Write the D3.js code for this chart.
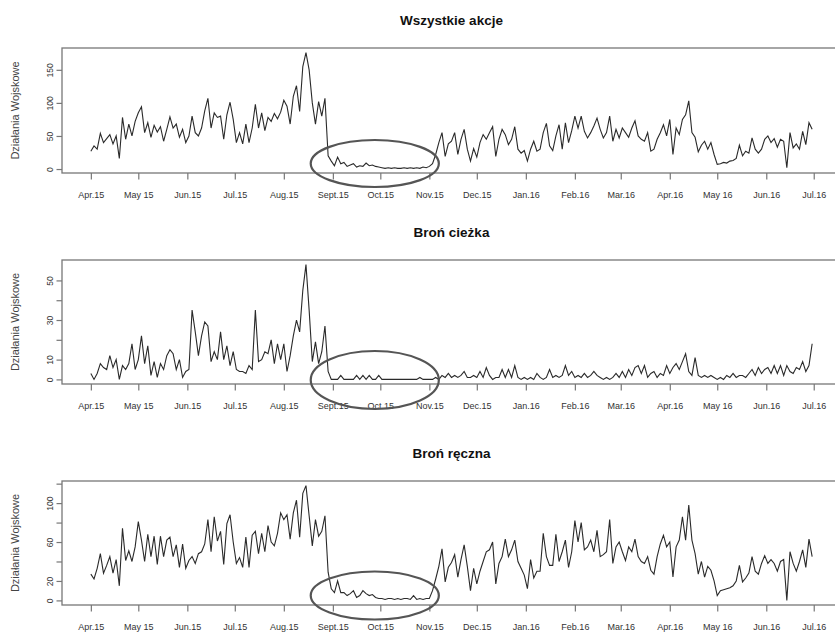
<!DOCTYPE html>
<html lang="pl">
<head>
	<meta charset="utf-8" />
	<title>Działania Wojskowe</title>
	<script src="https://d3js.org/d3.v7.min.js"></script>
	<style>
		body {
			margin: 0;
			background: #fff;
			font-family: "Liberation Sans", Arial, sans-serif;
		}
	</style>
</head>
<body>
<script>
// one value every 2nd day, starting 1 Apr 2015
const startDate = new Date(2015, 3, 1);
const stepDays = 2;

// Wszystkie akcje
const allActions = [
	27, 35, 30, 54, 40, 46, 52, 38, 50, 16, 78, 45, 68, 50, 72,          // Apr
	85, 94, 55, 70, 48, 66, 56, 64, 42, 60, 79, 62, 68, 48, 60, 40,      // May
	50, 80, 55, 50, 62, 88, 107, 62, 85, 78, 80, 45, 82, 101, 75,        // Jun
	40, 55, 38, 68, 40, 62, 98, 62, 85, 58, 78, 72, 84, 76, 86,          // Jul
	104, 95, 68, 110, 126, 87, 155, 176, 150, 100, 68, 102, 80, 107, 20, 12, // Aug
	5, 18, 8, 10, 4, 6, 8, 3, 5, 4, 9, 5, 6, 4, 3,                       // Sep
	2, 1, 2, 1, 2, 1, 1, 2, 1, 2, 1, 2, 1, 3, 2,                         // Oct
	4, 8, 22, 40, 55, 19, 38, 42, 55, 22, 45, 60, 30, 12, 31,            // Nov
	18, 40, 52, 45, 55, 64, 19, 45, 60, 52, 37, 45, 64, 30, 24, 28,      // Dec
	12, 30, 42, 27, 30, 55, 69, 35, 28, 50, 67, 30, 70, 40, 58,          // Jan
	80, 62, 80, 57, 47, 55, 65, 77, 60, 47, 55, 80, 42, 60, 47,          // Feb
	62, 55, 48, 62, 73, 50, 45, 42, 55, 27, 30, 45, 55, 67, 50,          // Mar
	75, 22, 62, 52, 75, 82, 103, 55, 48, 26, 36, 42, 30, 40, 22,         // Apr
	7, 8, 10, 9, 12, 13, 16, 36, 20, 27, 24, 47, 30, 24, 30, 45,         // May
	50, 40, 46, 33, 45, 42, 2, 55, 32, 38, 30, 57, 37, 70, 60            // Jun
];

// Broń cieżka
const heavyWeapons = [
	3, 0, 3, 8, 6, 5, 12, 6, 10, 0, 7, 5, 8, 18, 5,
	10, 22, 8, 17, 2, 9, 1, 8, 5, 12, 15, 13, 5, 10, 1, 4,
	5, 35, 24, 12, 22, 29, 27, 9, 14, 10, 24, 10, 17, 7, 14,
	5, 4, 4, 3, 7, 5, 35, 9, 10, 14, 13, 20, 8, 18, 10,
	18, 4, 12, 22, 30, 24, 45, 58, 35, 9, 19, 8, 14, 27, 4, 0,
	0, 0, 2, 0, 0, 0, 0, 2, 0, 2, 0, 2, 0, 0, 2,
	0, 0, 0, 0, 0, 0, 0, 0, 0, 0, 0, 0, 1, 0, 0,
	0, 0, 1, 0, 2, 1, 3, 1, 2, 1, 2, 4, 1, 1, 2,
	1, 4, 1, 6, 2, 0, 1, 1, 5, 1, 5, 1, 7, 1, 0, 1,
	0, 1, 0, 3, 1, 0, 1, 5, 1, 2, 1, 2, 7, 2, 4,
	1, 2, 1, 3, 1, 2, 4, 2, 1, 0, 1, 0, 1, 3, 1,
	4, 1, 5, 2, 6, 7, 3, 7, 1, 3, 4, 1, 3, 2, 7,
	3, 6, 8, 5, 9, 13, 4, 2, 11, 2, 1, 2, 1, 2, 1,
	0, 1, 0, 2, 1, 3, 1, 2, 2, 1, 3, 5, 2, 6, 3, 5,
	6, 3, 7, 3, 7, 2, 7, 4, 3, 6, 5, 9, 4, 7, 18
];

// Broń ręczna
const smallArms = [
	27, 22, 33, 48, 28, 36, 45, 28, 42, 15, 74, 41, 51, 40, 55,
	81, 62, 40, 68, 45, 66, 37, 66, 45, 62, 65, 45, 57, 34, 58, 33,
	41, 45, 38, 48, 50, 58, 83, 50, 86, 61, 71, 37, 79, 88, 60,
	38, 44, 34, 65, 34, 67, 71, 48, 69, 50, 77, 60, 56, 69, 90,
	83, 88, 63, 90, 103, 65, 110, 118, 87, 56, 83, 66, 71, 87, 29, 12,
	8, 20, 8, 8, 5, 7, 10, 3, 5, 10, 7, 5, 6, 3, 2,
	2, 1, 2, 2, 1, 2, 1, 2, 2, 1, 5, 1, 2, 1, 2,
	2, 10, 22, 35, 53, 19, 34, 39, 47, 24, 42, 57, 35, 10, 33,
	17, 30, 40, 50, 52, 60, 17, 38, 45, 63, 45, 52, 62, 40, 33, 26,
	12, 42, 23, 30, 30, 69, 45, 36, 36, 68, 40, 50, 62, 34, 50,
	82, 60, 80, 52, 55, 62, 50, 72, 45, 47, 50, 83, 38, 55, 60,
	50, 41, 55, 50, 63, 45, 40, 38, 45, 31, 27, 45, 58, 67, 55,
	60, 24, 55, 62, 86, 62, 98, 62, 48, 27, 40, 24, 35, 31, 20,
	5, 10, 11, 12, 13, 15, 20, 36, 19, 23, 28, 45, 30, 27, 38, 46,
	38, 42, 38, 30, 40, 42, 0, 50, 38, 30, 40, 52, 34, 63, 45
];

// x axis ticks (first of month) and labels
const monthTicks = d3.range(16).map(i => new Date(2015, 3 + i, 1));
const monthLabels = ["Apr.15", "May 15", "Jun.15", "Jul.15", "Aug.15", "Sept.15", "Oct.15", "Nov.15",
	"Dec.15", "Jan.16", "Feb.16", "Mar.16", "Apr.16", "May 16", "Jun.16", "Jul.16"];

const panelTitles = ["Wszystkie akcje", "Broń cieżka", "Broń ręczna"];
const panelSeries = [allActions, heavyWeapons, smallArms];
const yTickValues = [[0, 50, 100, 150], [0, 10, 20, 30, 40, 50], [0, 20, 40, 60, 80, 100, 120]];
const yTickLabels = [[0, 50, 100, 150], [0, 10, 30, 50], [0, 20, 60, 100]];
const yTitle = "Działania Wojskowe";

// layout
const width = 835, height = 632;
const plotLeft = 62, plotRight = 841;
const boxTops = [48, 260, 481];
const boxBottoms = [173, 384, 605];
const ellipseSpec = [{dy: -9.5, ry: 23.5}, {dy: -4, ry: 29}, {dy: -9.5, ry: 24}];

const svg = d3.select("body").append("svg")
	.attr("width", width)
	.attr("height", height);

const dates = allActions.map((d, i) => d3.timeDay.offset(startDate, i * stepDays));
const first = dates[0], last = dates[dates.length - 1];
const padMs = (last - first) * 0.04;

const x = d3.scaleTime()
	.domain([new Date(first.getTime() - padMs), new Date(last.getTime() + padMs)])
	.range([plotLeft, plotRight]);

panelSeries.forEach(function(values, p) {
	let top = boxTops[p], bottom = boxBottoms[p];
	let maxV = d3.max(values), minV = d3.min(values);
	let pad = (maxV - minV) * 0.04;
	let y = d3.scaleLinear()
		.domain([minV - pad, maxV + pad])
		.range([bottom, top]);

	let g = svg.append("g");

	// title
	g.append("text")
		.text(panelTitles[p])
		.attr("x", (plotLeft + plotRight) / 2)
		.attr("y", top - 23.3)
		.attr("text-anchor", "middle")
		.attr("font-size", 13.5)
		.attr("font-weight", "bold")
		.attr("fill", "#111");

	// x axis
	let xAxis = g.append("g")
		.attr("transform", "translate(0," + bottom + ")")
		.call(d3.axisBottom(x)
			.tickValues(monthTicks)
			.tickFormat((d, i) => monthLabels[i])
			.tickSize(6.5)
			.tickPadding(12)
			.tickSizeOuter(0));
	xAxis.select(".domain").remove();
	xAxis.selectAll("line").attr("stroke", "#777").attr("stroke-width", 1.2);
	xAxis.selectAll("text")
		.attr("font-size", 9)
		.attr("font-family", "Liberation Sans, Arial, sans-serif")
		.attr("fill", "#333");

	// y axis
	let labels = yTickLabels[p];
	let yAxis = g.append("g")
		.attr("transform", "translate(" + plotLeft + ",0)")
		.call(d3.axisLeft(y)
			.tickValues(yTickValues[p])
			.tickFormat(d => labels.includes(d) ? d : "")
			.tickSize(5.5)
			.tickSizeOuter(0));
	yAxis.select(".domain").remove();
	yAxis.selectAll("line").attr("stroke", "#777").attr("stroke-width", 1.2);
	yAxis.selectAll("text")
		.attr("x", null)
		.attr("dy", null)
		.attr("transform", "translate(-9,0) rotate(-90)")
		.attr("text-anchor", "middle")
		.attr("font-size", 8.5)
		.attr("font-family", "Liberation Sans, Arial, sans-serif")
		.attr("fill", "#333");

	// y title
	g.append("text")
		.text(yTitle)
		.attr("transform", "translate(19," + (top + bottom) / 2 + ") rotate(-90)")
		.attr("text-anchor", "middle")
		.attr("font-size", 11)
		.attr("fill", "#444");

	// box
	g.append("rect")
		.attr("x", plotLeft)
		.attr("y", top)
		.attr("width", plotRight - plotLeft)
		.attr("height", bottom - top)
		.attr("fill", "none")
		.attr("stroke", "#777")
		.attr("stroke-width", 1.3);

	// series line
	let line = d3.line()
		.x((d, i) => x(dates[i]))
		.y(d => y(d));
	g.append("path")
		.datum(values)
		.attr("d", line)
		.attr("fill", "none")
		.attr("stroke", "#2a2a2a")
		.attr("stroke-width", 1.1);

	// hand drawn ellipse around the quiet period (Aug 18 - Nov 7 2015)
	let e0 = x(new Date(2015, 7, 18)), e1 = x(new Date(2015, 10, 7));
	g.append("ellipse")
		.attr("cx", (e0 + e1) / 2)
		.attr("cy", bottom + ellipseSpec[p].dy)
		.attr("rx", (e1 - e0) / 2)
		.attr("ry", ellipseSpec[p].ry)
		.attr("fill", "none")
		.attr("stroke", "#555")
		.attr("stroke-width", 2.2);
});
</script>
</body>
</html>
